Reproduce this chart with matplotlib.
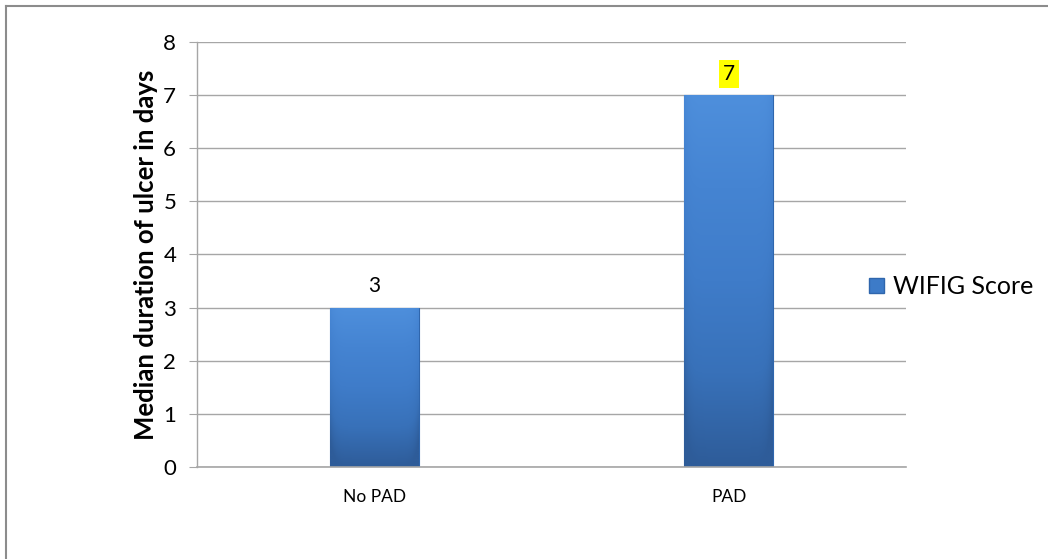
import numpy as np
import matplotlib
matplotlib.use("Agg")
import matplotlib.pyplot as plt
from matplotlib.patches import Patch
from matplotlib.colors import LinearSegmentedColormap
from matplotlib.lines import Line2D

plt.rcParams['font.family'] = ['Lato', 'DejaVu Sans']

categories = ["No PAD", "PAD"]
values = [3, 7]
series_name = "WIFIG Score"
y_label = "Median duration of ulcer in days"
y_ticks = [0, 1, 2, 3, 4, 5, 6, 7, 8]

fig = plt.figure(figsize=(10.48, 5.59), dpi=100)
ax = fig.add_axes([0.188, 0.1646, 0.6765, 0.7603])

x = np.arange(len(categories))
bar_w = 0.25
bars = ax.bar(x, values, width=bar_w, color="#3d7bc8", edgecolor="#2f66ad",
              linewidth=0.8, zorder=2)

# vertical shading inside each bar
grad_cmap = LinearSegmentedColormap.from_list(
    "bar_shade", ["#2e5c99", "#3871b9", "#3f7cc9", "#4584d2", "#4e8fdc"])
for rect in bars:
    bx, by = rect.get_x(), rect.get_y()
    bw, bh = rect.get_width(), rect.get_height()
    col = np.linspace(0, 1, 256).reshape(-1, 1)
    edge = np.abs(np.linspace(-1, 1, 64))
    img = col * np.ones((1, 64)) - 0.15 * (edge ** 10)
    im = ax.imshow(img, cmap=grad_cmap, vmin=0, vmax=1, origin="lower",
                   extent=[bx, bx + bw, by, by + bh], aspect="auto",
                   zorder=2.5, interpolation="bilinear")
    im.set_clip_path(rect)

ax.set_xlim(-0.5, len(categories) - 0.5)
ax.set_ylim(0, 8)
ax.set_yticks(y_ticks)
ax.set_xticks(x)
ax.set_xticklabels(categories)
ax.yaxis.grid(True, color="#a6a6a6", linewidth=1.0, zorder=0)
ax.set_axisbelow(True)
for s in ["top", "right"]:
    ax.spines[s].set_visible(False)
ax.spines["left"].set_color("#a6a6a6")
ax.spines["bottom"].set_color("#a6a6a6")
ax.spines["left"].set_linewidth(1.0)
ax.spines["bottom"].set_linewidth(1.2)
ax.tick_params(axis="y", length=6, color="#a6a6a6", labelsize=16, pad=9)
ax.tick_params(axis="x", length=0, labelsize=12.5, pad=16)
ylab = ax.set_ylabel(y_label, fontsize=18.5, fontweight="bold")
ylab.set_va("center")
ax.yaxis.set_label_coords(-0.072, 0.5)

# value labels
for i, v in enumerate(values):
    kw = {}
    if v == max(values):
        kw["bbox"] = dict(facecolor="#ffff00", edgecolor="none", pad=3)
    ax.annotate(str(v), (x[i], v), xytext=(0, 8), textcoords="offset points",
                ha="center", va="bottom", fontsize=15, zorder=4, **kw)

leg = fig.legend(handles=[Patch(facecolor="#3d7bc8", edgecolor="#2f66ad")],
                 labels=[series_name], loc="center left",
                 bbox_to_anchor=(0.808, 0.487), frameon=False, fontsize=18,
                 handlelength=0.6, handleheight=0.6, handletextpad=0.35)

# chart frame
fig.add_artist(Line2D([6 / 1048, 1], [1 - 6 / 559, 1 - 6 / 559],
                      transform=fig.transFigure, color="#8c8c8c", linewidth=1.5))
fig.add_artist(Line2D([6 / 1048, 6 / 1048], [0, 1 - 6 / 559],
                      transform=fig.transFigure, color="#8c8c8c", linewidth=1.5))

fig.savefig("out.png", dpi=100)
